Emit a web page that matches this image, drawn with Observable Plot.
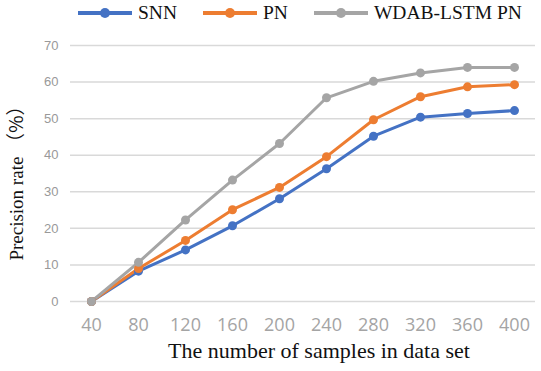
<!DOCTYPE html>
<html>
<head>
<meta charset="utf-8">
<script src="https://cdn.jsdelivr.net/npm/d3@7"></script>
<script src="https://cdn.jsdelivr.net/npm/@observablehq/plot@0.6"></script>
<style>
  html, body { margin: 0; padding: 0; background: #fff; }
  #wrap { width: 541px; height: 371px; position: relative; overflow: hidden; }
  #legend { height: 26px; display: flex; align-items: center; padding-left: 78px; white-space: nowrap; width: 600px; }
  .item { display: flex; align-items: center; margin-right: 26px; flex-shrink: 0; }
  .item svg { margin-right: 6px; display: block; flex-shrink: 0; }
  .item span { font-family: "Liberation Serif", "Times New Roman", serif; font-size: 19.5px; color: #111; line-height: 20px; white-space: nowrap; }
  #xtitle { text-align: center; width: 541px; padding-left: 97px; box-sizing: border-box; font-family: "Liberation Serif", "Times New Roman", serif; font-size: 22px; color: #111; line-height: 22px; white-space: nowrap; }
</style>
</head>
<body>
<div id="wrap">
  <div id="legend"></div>
  <div id="chart"></div>
  <div id="xtitle">The number of samples in data set</div>
</div>
<script>
const samples = [40, 80, 120, 160, 200, 240, 280, 320, 360, 400];
const seriesNames = ["SNN", "PN", "WDAB-LSTM PN"];
const snn  = [0, 8.3, 14.1, 20.7, 28.1, 36.3, 45.2, 50.4, 51.4, 52.2];
const pn   = [0, 9.0, 16.7, 25.1, 31.2, 39.6, 49.7, 56.0, 58.7, 59.3];
const wdab = [0, 10.7, 22.3, 33.2, 43.2, 55.7, 60.2, 62.5, 64.0, 64.0];
const yTicks = [0, 10, 20, 30, 40, 50, 60, 70];
const colors = ["#4472C4", "#ED7D31", "#A5A5A5"];
const yTitleMain = "Precision rate ";
const yTitleUnit = "（%）";

const all = [snn, pn, wdab];
const data = [];
seriesNames.forEach((s, i) => samples.forEach((x, j) => data.push({series: s, x, y: all[i][j]})));

// legend
const legend = document.getElementById("legend");
seriesNames.forEach((s, i) => {
  const it = document.createElement("div");
  it.className = "item";
  it.innerHTML = `<svg width="54" height="12"><line x1="0" y1="6" x2="54" y2="6" stroke="${colors[i]}" stroke-width="4"/><circle cx="27" cy="6" r="5" fill="${colors[i]}"/></svg><span>${s}</span>`;
  legend.appendChild(it);
});

const chart = Plot.plot({
  width: 541,
  height: 314,
  marginLeft: 70,
  marginRight: 6,
  marginTop: 19,
  marginBottom: 39,
  x: {type: "point", domain: samples, padding: 0.43},
  y: {domain: [0, 70]},
  color: {domain: seriesNames, range: colors},
  marks: [
    Plot.gridY(yTicks, {stroke: "#d9d9d9", strokeOpacity: 1, strokeWidth: 1.5}),
    Plot.axisY(yTicks, {tickSize: 0, tickPadding: 12, fontSize: 13, fill: "#999", label: null, fontFamily: "Liberation Sans, sans-serif"}),
    Plot.axisX(samples, {tickSize: 0, tickPadding: 17, fontSize: 18, fill: "#a4a4a4", label: null, fontFamily: "Open Sans, sans-serif"}),
    Plot.text([yTitleMain + yTitleUnit], {frameAnchor: "left", rotate: -90, dx: -54, dy: 5, fontSize: 19, fontFamily: "Liberation Serif, serif", fill: "#111", textAnchor: "middle", lineAnchor: "middle", className: "ytitle"}),
    Plot.line(data, {x: "x", y: "y", z: "series", stroke: "series", strokeWidth: 3}),
    Plot.dot(data, {x: "x", y: "y", fill: "series", r: 4.5})
  ]
});
// render the full-width brackets in a CJK font, as in the original
d3.select(chart).selectAll("g.ytitle text").each(function() {
  const t = d3.select(this);
  t.text(null);
  t.append("tspan").text(yTitleMain);
  t.append("tspan").attr("font-family", "Noto Sans CJK SC").text(yTitleUnit);
});
document.getElementById("chart").appendChild(chart);
</script>
</body>
</html>
